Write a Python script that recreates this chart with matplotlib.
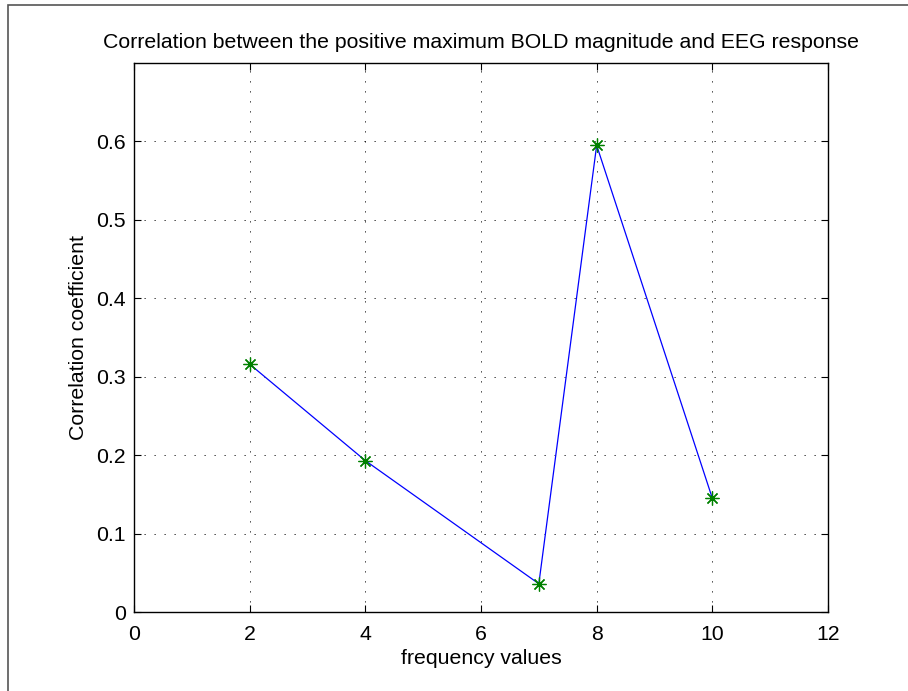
import matplotlib
matplotlib.use('Agg')
import matplotlib.pyplot as plt
from matplotlib.patches import Rectangle

# Data
freq = [2, 4, 7, 8, 10]
corr = [0.316, 0.193, 0.036, 0.595, 0.145]
x_ticks = [0, 2, 4, 6, 8, 10, 12]
y_ticks = [0, 0.1, 0.2, 0.3, 0.4, 0.5, 0.6]
y_tick_labels = ['0', '0.1', '0.2', '0.3', '0.4', '0.5', '0.6']

plt.rcParams['font.family'] = ['Liberation Sans', 'DejaVu Sans']
fs = 15.3

fig = plt.figure(figsize=(9.08, 6.91), dpi=100)
ax = fig.add_axes([134 / 908, 1 - 612 / 691, (828 - 134) / 908, (612 - 63) / 691])

# outer frame (left and top edge of a cropped window)
fig.patches.append(Rectangle((8 / 908, -0.05), 1.2, 1 - 5 / 691 + 0.05,
                             transform=fig.transFigure, fill=False,
                             edgecolor='#555555', linewidth=1.2))

ax.plot(freq, corr, color='blue', linewidth=0.9, zorder=3)
ax.plot(freq, corr, linestyle='none', marker=(8, 2, 0), color='green',
        markersize=10, markeredgewidth=0.9, zorder=4)

ax.set_xlim(0, 12)
ax.set_ylim(0, 0.7)
ax.set_xticks(x_ticks)
ax.set_yticks(y_ticks)
ax.set_yticklabels(y_tick_labels)

# sparse black dotted grid
ax.grid(True, color='black', linestyle=(0, (1.5, 10.5)), linewidth=0.6)
ax.tick_params(direction='in', top=True, right=True, length=5, width=0.8,
               labelsize=fs)
ax.tick_params(axis='x', pad=9)
ax.tick_params(axis='y', pad=6)
for spine in ax.spines.values():
    spine.set_linewidth(1.0)

ax.set_xlabel('frequency values', fontsize=fs, labelpad=4)
ax.set_ylabel('Correlation coefficient', fontsize=fs, labelpad=6)
ax.set_title('Correlation between the positive maximum BOLD magnitude and EEG response',
             fontsize=fs, pad=11)

plt.savefig('out.png', dpi=100)
